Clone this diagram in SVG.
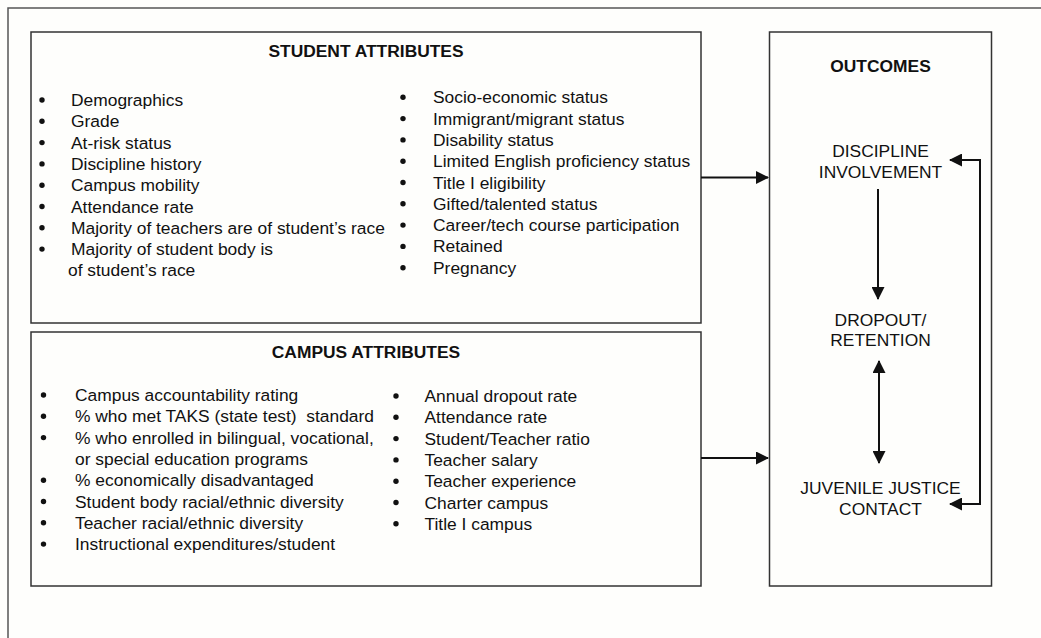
<svg xmlns="http://www.w3.org/2000/svg" width="1041" height="638" viewBox="0 0 1041 638">
<style>
.box{fill:none;stroke:#333;stroke-width:1.5}
.t{font-family:"Liberation Sans",Arial,sans-serif;font-size:17.4px;fill:#111}
.h{font-family:"Liberation Sans",Arial,sans-serif;font-size:17.4px;font-weight:bold;fill:#111}
.c{text-anchor:middle}
.b{fill:#111}
.conn{fill:none;stroke:#111;stroke-width:2}
</style>
<defs>
<marker id="ah" markerUnits="userSpaceOnUse" markerWidth="13" markerHeight="13" viewBox="0 0 13 13" refX="12" refY="6.5" orient="auto-start-reverse"><path d="M0,0 L13,6.5 L0,13 z" fill="#111"/></marker>
</defs>
<rect width="1041" height="638" fill="#fefefc"/>
<path d="M8,638 V8 H1041" fill="none" stroke="#555" stroke-width="1.5"/>

<g id="student">
<rect class="box" x="31" y="32" width="670" height="291"/>
<text class="h c" x="366" y="57">STUDENT ATTRIBUTES</text>
<g class="b">
<circle cx="42" cy="100" r="2.7"/><circle cx="42" cy="121.3" r="2.7"/><circle cx="42" cy="142.6" r="2.7"/><circle cx="42" cy="163.9" r="2.7"/><circle cx="42" cy="185.2" r="2.7"/><circle cx="42" cy="206.5" r="2.7"/><circle cx="42" cy="227.8" r="2.7"/><circle cx="42" cy="249.1" r="2.7"/>
</g>
<g class="t">
<text x="71" y="106">Demographics</text>
<text x="71" y="127.3">Grade</text>
<text x="71" y="148.6">At-risk status</text>
<text x="71" y="169.9">Discipline history</text>
<text x="71" y="191.2">Campus mobility</text>
<text x="71" y="212.5">Attendance rate</text>
<text x="71" y="233.8">Majority of teachers are of student’s race</text>
<text x="71" y="255.1">Majority of student body is</text>
<text x="68" y="276.4">of student’s race</text>
</g>
<g class="b">
<circle cx="403" cy="97.3" r="2.7"/><circle cx="403" cy="118.6" r="2.7"/><circle cx="403" cy="139.9" r="2.7"/><circle cx="403" cy="161.2" r="2.7"/><circle cx="403" cy="182.5" r="2.7"/><circle cx="403" cy="203.8" r="2.7"/><circle cx="403" cy="225.1" r="2.7"/><circle cx="403" cy="246.4" r="2.7"/><circle cx="403" cy="267.7" r="2.7"/>
</g>
<g class="t">
<text x="433" y="103.3">Socio-economic status</text>
<text x="433" y="124.6">Immigrant/migrant status</text>
<text x="433" y="145.9">Disability status</text>
<text x="433" y="167.2">Limited English proficiency status</text>
<text x="433" y="188.5">Title I eligibility</text>
<text x="433" y="209.8">Gifted/talented status</text>
<text x="433" y="231.1">Career/tech course participation</text>
<text x="433" y="252.4">Retained</text>
<text x="433" y="273.7">Pregnancy</text>
</g>
</g>

<g id="campus">
<rect class="box" x="31" y="332" width="670" height="254"/>
<text class="h c" x="366" y="358">CAMPUS ATTRIBUTES</text>
<g class="b">
<circle cx="43.5" cy="395" r="2.7"/><circle cx="43.5" cy="416.3" r="2.7"/><circle cx="43.5" cy="437.6" r="2.7"/><circle cx="43.5" cy="480.2" r="2.7"/><circle cx="43.5" cy="501.5" r="2.7"/><circle cx="43.5" cy="522.8" r="2.7"/><circle cx="43.5" cy="544.1" r="2.7"/>
</g>
<g class="t">
<text x="75" y="401">Campus accountability rating</text>
<text x="75" y="422.3" xml:space="preserve">% who met TAKS (state test)  standard</text>
<text x="75" y="443.6">% who enrolled in bilingual, vocational,</text>
<text x="75" y="464.9">or special education programs</text>
<text x="75" y="486.2">% economically disadvantaged</text>
<text x="75" y="507.5">Student body racial/ethnic diversity</text>
<text x="75" y="528.8">Teacher racial/ethnic diversity</text>
<text x="75" y="550.1">Instructional expenditures/student</text>
</g>
<g class="b">
<circle cx="396" cy="396" r="2.7"/><circle cx="396" cy="417.3" r="2.7"/><circle cx="396" cy="438.6" r="2.7"/><circle cx="396" cy="459.9" r="2.7"/><circle cx="396" cy="481.2" r="2.7"/><circle cx="396" cy="502.5" r="2.7"/><circle cx="396" cy="523.8" r="2.7"/>
</g>
<g class="t">
<text x="424.5" y="402">Annual dropout rate</text>
<text x="424.5" y="423.3">Attendance rate</text>
<text x="424.5" y="444.6">Student/Teacher ratio</text>
<text x="424.5" y="465.9">Teacher salary</text>
<text x="424.5" y="487.2">Teacher experience</text>
<text x="424.5" y="508.5">Charter campus</text>
<text x="424.5" y="529.8">Title I campus</text>
</g>
</g>

<g id="outcomes">
<rect class="box" x="769.5" y="32" width="222" height="554"/>
<text class="h c" x="880.5" y="72">OUTCOMES</text>
</g>
<g id="discipline">
<text class="t c" x="880.5" y="156.7">DISCIPLINE</text>
<text class="t c" x="880.5" y="177.5">INVOLVEMENT</text>
</g>
<g id="dropout">
<text class="t c" x="880.5" y="325.7">DROPOUT/</text>
<text class="t c" x="880.5" y="346.3">RETENTION</text>
</g>
<g id="juvenile">
<text class="t c" x="880.5" y="494">JUVENILE JUSTICE</text>
<text class="t c" x="880.5" y="515">CONTACT</text>
</g>

<g id="connectors">
<path class="conn" d="M701,177.5 H768" marker-end="url(#ah)"/>
<path class="conn" d="M701,458 H768" marker-end="url(#ah)"/>
<path class="conn" d="M878,189 V299" marker-end="url(#ah)"/>
<path class="conn" d="M879,361 V463" marker-start="url(#ah)" marker-end="url(#ah)"/>
<path class="conn" d="M950,160 H980 V504 H950" marker-start="url(#ah)" marker-end="url(#ah)"/>
</g>
</svg>
